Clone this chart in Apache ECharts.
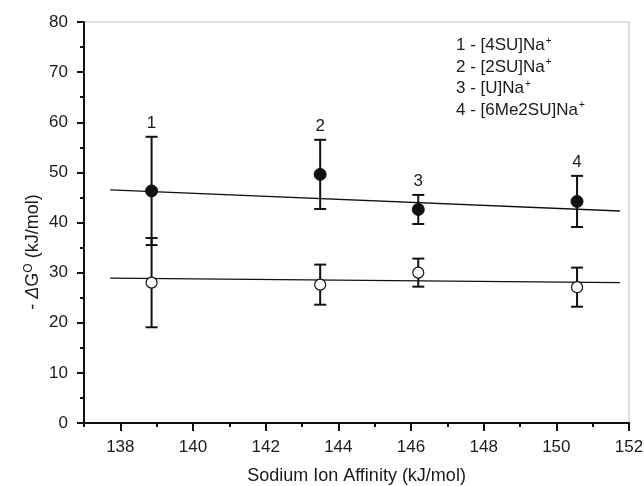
<!DOCTYPE html>
<html>
<head>
<meta charset="utf-8">
<script src="https://cdn.jsdelivr.net/npm/echarts@6/dist/echarts.min.js"></script>
<style>html,body{margin:0;padding:0;background:#fff}#c{width:644px;height:486px}</style>
</head>
<body>
<div id="c"></div>
<script>
// ---- data ----
const affinity = [138.86, 143.5, 146.2, 150.57];
const pointLabels = ['1', '2', '3', '4'];
const filledY = [46.3, 49.6, 42.6, 44.2];
const filledErr = [10.8, 6.9, 2.9, 5.1];
const openY = [28.0, 27.6, 30.0, 27.1];
const openErr = [8.9, 4.0, 2.8, 3.9];
const fitFilled = [[137.72, 46.5], [151.75, 42.3]];
const fitOpen = [[137.72, 28.9], [151.75, 28.0]];
const xMajorTicks = [138, 140, 142, 144, 146, 148, 150, 152];
const xMinorTicks = [137, 139, 141, 143, 145, 147, 149, 151];
const legendLines = [
  ['1 - [4SU]Na', '+'],
  ['2 - [2SU]Na', '+'],
  ['3 - [U]Na', '+'],
  ['4 - [6Me2SU]Na', '+']
];
const xTitle = 'Sodium Ion Affinity (kJ/mol)';

const FONT = 'Liberation Sans, Arial, sans-serif';
const TXT = '#1a1a1a';

function errData(ys, errs) {
  return affinity.map((x, i) => [x, ys[i], errs[i]]);
}

function renderErr(params, api) {
  const x = api.value(0), y = api.value(1), e = api.value(2);
  const top = api.coord([x, y + e]);
  const bot = api.coord([x, y - e]);
  const hw = 6;
  const st = { stroke: '#111', lineWidth: 2 };
  const children = [
    { type: 'line', shape: { x1: top[0], y1: top[1], x2: bot[0], y2: bot[1] }, style: st },
    { type: 'line', shape: { x1: top[0] - hw, y1: top[1], x2: top[0] + hw, y2: top[1] }, style: st },
    { type: 'line', shape: { x1: bot[0] - hw, y1: bot[1], x2: bot[0] + hw, y2: bot[1] }, style: st }
  ];
  const labText = params.seriesName === 'errFilled' ? pointLabels[params.dataIndex] : '';
  if (labText) {
    children.push({
      type: 'text',
      style: { text: labText, x: top[0], y: top[1] - 5, align: 'center', verticalAlign: 'bottom',
               fill: TXT, font: '17px ' + FONT }
    });
  }
  return { type: 'group', children };
}

const chart = echarts.init(document.getElementById('c'));
chart.setOption({
  animation: false,
  backgroundColor: '#fff',
  grid: { left: 84, right: 15, top: 22, bottom: 63, outerBoundsMode: 'none', containLabel: false,
          show: true, borderColor: '#bdbdbd', borderWidth: 1, backgroundColor: 'transparent' },
  xAxis: [{
    type: 'value', min: 137, max: 152,
    name: xTitle, nameLocation: 'middle', nameGap: 44,
    nameTextStyle: { fontSize: 18, fontFamily: FONT, color: TXT },
    axisLine: { show: true, onZero: false, lineStyle: { color: '#111', width: 2 } },
    axisTick: { show: true, inside: false, length: 8, lineStyle: { color: '#111', width: 2 }, customValues: xMajorTicks },
    axisLabel: { fontSize: 17, fontFamily: FONT, color: TXT, margin: 16, customValues: xMajorTicks },
    splitLine: { show: false }
  }, {
    type: 'value', min: 137, max: 152, position: 'bottom',
    axisLine: { show: false },
    axisTick: { show: true, length: 4, lineStyle: { color: '#111', width: 2 }, customValues: xMinorTicks },
    axisLabel: { show: false },
    splitLine: { show: false }
  }],
  yAxis: {
    type: 'value', min: 0, max: 80, interval: 10,
    axisLine: { show: true, onZero: false, lineStyle: { color: '#111', width: 2 } },
    axisTick: { show: true, length: 7, lineStyle: { color: '#111', width: 2 } },
    minorTick: { show: true, splitNumber: 2, length: 4, lineStyle: { color: '#111', width: 2 } },
    axisLabel: { fontSize: 17, fontFamily: FONT, color: TXT, margin: 16 },
    splitLine: { show: false }
  },
  series: [
    { name: 'fitFilled', type: 'line', data: fitFilled, symbol: 'none', lineStyle: { color: '#111', width: 1.4 }, z: 2 },
    { name: 'fitOpen', type: 'line', data: fitOpen, symbol: 'none', lineStyle: { color: '#111', width: 1.4 }, z: 2 },
    { name: 'errFilled', type: 'custom', renderItem: renderErr, data: errData(filledY, filledErr), z: 3 },
    { name: 'errOpen', type: 'custom', renderItem: renderErr, data: errData(openY, openErr), z: 3 },
    { name: 'filled', type: 'scatter', data: affinity.map((x, i) => [x, filledY[i]]), symbol: 'circle', symbolSize: 12,
      itemStyle: { color: '#111', borderColor: '#111', borderWidth: 1, opacity: 1 }, z: 5 },
    { name: 'open', type: 'scatter', data: affinity.map((x, i) => [x, openY[i]]), symbol: 'circle', symbolSize: 11,
      itemStyle: { color: '#fff', borderColor: '#111', borderWidth: 1.2, opacity: 1 }, z: 5 }
  ],
  graphic: legendLines.map((l, i) => ({
    type: 'text', left: 456, top: 36 + i * 21.5,
    style: {
      text: l[0] + '{s|' + l[1] + '}',
      font: '17px ' + FONT, fill: TXT,
      rich: { s: { fontSize: 10, fontFamily: FONT, fill: TXT, verticalAlign: 'top', padding: [0, 0, 9, 1] } }
    }
  })).concat([{
    type: 'text', x: 33, y: 252, rotation: Math.PI / 2,
    style: {
      text: '- {i|Δ}G{sup|O} (kJ/mol)',
      font: '18px ' + FONT, fill: TXT, align: 'center', verticalAlign: 'middle',
      rich: {
        i: { fontStyle: 'italic', fontSize: 18, fontFamily: FONT, fill: TXT },
        sup: { fontSize: 12, fontFamily: FONT, fill: TXT, verticalAlign: 'top', padding: [0, 0, 9, 0] }
      }
    }
  }])
});
</script>
</body>
</html>
